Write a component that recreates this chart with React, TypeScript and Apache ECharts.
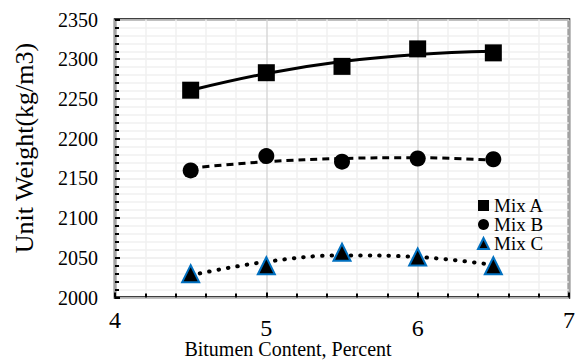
import React, { useEffect, useRef } from "react";
import * as echarts from "echarts";

const bitumen = [4.5, 5, 5.5, 6, 6.5];
const mixA = [2261, 2283, 2291, 2313, 2308];
const mixB = [2160, 2178, 2171, 2175, 2174];
const mixC = [2030, 2040, 2057, 2051, 2040];
// trendline values at each bitumen content
const trendA = [2261, 2282, 2297, 2306, 2310];
const trendB = [2163, 2171, 2175, 2176, 2173];
const trendC = [2028, 2045, 2053, 2051, 2041];

const FONT = "Liberation Serif";

const pairs = (ys: number[]) => bitumen.map((x, i) => [x, ys[i]]);

export default function App() {
  const ref = useRef<HTMLDivElement>(null);
  useEffect(() => {
    if (!ref.current) return;
    const chart = echarts.init(ref.current, undefined, { renderer: "svg" });
    chart.setOption({
      animation: false,
      backgroundColor: "#ffffff",
      grid: {
        left: 115,
        right: 6,
        top: 19.5,
        bottom: 64.5,
        show: true,
        borderColor: "#000",
        borderWidth: 2.5,
        backgroundColor: "transparent",
        containLabel: false,
      },
      legend: {
        orient: "vertical",
        left: 477,
        top: 196,
        padding: 0,
        itemGap: 0,
        itemWidth: 11,
        itemHeight: 11,
        data: ["Mix A", "Mix B", "Mix C"],
        textStyle: { fontFamily: FONT, fontSize: 19, color: "#000", lineHeight: 19 },
      },
      xAxis: {
        type: "value",
        min: 4,
        max: 7,
        interval: 1,
        axisLine: { show: false },
        axisTick: { show: true, inside: true, length: 5, lineStyle: { color: "#000", width: 2 } },
        minorTick: { show: true, splitNumber: 5, length: 4, lineStyle: { color: "#000", width: 2 } },
        splitLine: { show: true, lineStyle: { color: "#d9d9d9", width: 1.5 } },
        minorSplitLine: { show: true, lineStyle: { color: "#f0f0f0", width: 1.5 } },
        axisLabel: {
          margin: 10,
          fontFamily: FONT,
          fontSize: 24,
          color: "#000",
          formatter: (v: number) => (v === 5 || v === 6 ? `{low|${v}}` : `{n|${v}}`),
          rich: {
            n: { fontFamily: FONT, fontSize: 24, color: "#000" },
            low: { fontFamily: FONT, fontSize: 24, color: "#000", padding: [8, 0, 0, 0] },
          },
        },
      },
      yAxis: {
        type: "value",
        min: 2000,
        max: 2350,
        interval: 50,
        axisLine: { show: false },
        axisTick: { show: true, inside: true, length: 5, lineStyle: { color: "#000", width: 2 } },
        minorTick: { show: true, splitNumber: 5, length: 4, lineStyle: { color: "#000", width: 2 } },
        splitLine: { show: true, lineStyle: { color: "#ececec", width: 1.5 } },
        minorSplitLine: { show: true, lineStyle: { color: "#f0f0f0", width: 1.5 } },
        axisLabel: {
          margin: 17,
          fontFamily: FONT,
          fontSize: 20,
          color: "#000",
          formatter: (v: number) => String(v),
        },
      },
      graphic: [
        {
          type: "text",
          x: 288,
          y: 349,
          style: {
            text: "Bitumen Content, Percent",
            fontFamily: FONT,
            fontSize: 20,
            fill: "#000",
            align: "center",
            verticalAlign: "middle",
          },
        },
        {
          type: "text",
          x: 24,
          y: 148,
          rotation: Math.PI / 2,
          style: {
            text: "Unit Weight(kg/m3)",
            fontFamily: FONT,
            fontSize: 26,
            fill: "#000",
            align: "center",
            verticalAlign: "middle",
          },
        },
      ],
      series: [
        {
          name: "trendA",
          type: "line",
          data: pairs(trendA),
          smooth: 0.4,
          symbol: "none",
          lineStyle: { color: "#000", width: 3 },
          z: 2,
        },
        {
          name: "trendB",
          type: "line",
          data: pairs(trendB),
          smooth: 0.4,
          symbol: "none",
          lineStyle: { color: "#000", width: 3, type: [7, 5] },
          z: 2,
        },
        {
          name: "trendC",
          type: "line",
          data: pairs(trendC),
          smooth: 0.4,
          symbol: "none",
          lineStyle: { color: "#000", width: 4, type: [0.5, 9], cap: "round" },
          z: 2,
        },
        {
          name: "Mix A",
          type: "scatter",
          data: pairs(mixA),
          symbol: "rect",
          symbolSize: 17,
          itemStyle: { color: "#000", opacity: 1 },
          z: 3,
        },
        {
          name: "Mix B",
          type: "scatter",
          data: pairs(mixB),
          symbol: "circle",
          symbolSize: 16,
          itemStyle: { color: "#000", opacity: 1 },
          z: 3,
        },
        {
          name: "Mix C",
          type: "scatter",
          data: pairs(mixC),
          symbol: "triangle",
          symbolSize: 17,
          itemStyle: { color: "#000", borderColor: "#0070c0", borderWidth: 2, opacity: 1 },
          z: 3,
        },
      ],
    });
    return () => chart.dispose();
  }, []);
  return <div ref={ref} style={{ width: 578, height: 362, position: "absolute", left: 0, top: 0 }} />;
}
